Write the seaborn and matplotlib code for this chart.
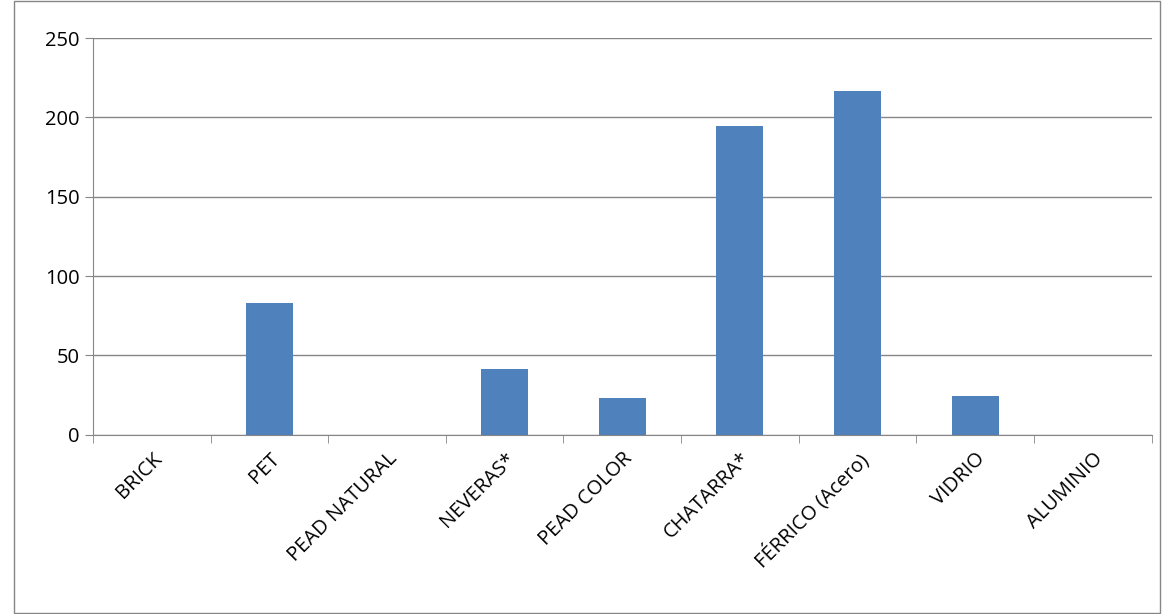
import matplotlib
matplotlib.use("Agg")
import numpy as np
import pandas as pd
import seaborn as sns
import matplotlib.pyplot as plt

categories = ["BRICK", "PET", "PEAD NATURAL", "NEVERAS*", "PEAD COLOR",
              "CHATARRA*", "FÉRRICO (Acero)", "VIDRIO", "ALUMINIO"]
values = [0, 83, 0, 41.5, 23.3, 194.5, 216.5, 24.5, 0]

df = pd.DataFrame({"material": categories, "valor": values})

sns.set_style("white")
plt.rcParams["font.family"] = ["Open Sans", "DejaVu Sans"]

fig = plt.figure(figsize=(11.62, 6.14), dpi=100)
ax = fig.add_axes([0.08, 0.292, 0.911, 0.646])
sns.barplot(data=df, x="material", y="valor", color="#4f81bd", width=0.4,
            saturation=1, linewidth=0, ax=ax)

ax.set_ylim(0, 250)
ax.set_yticks([0, 50, 100, 150, 200, 250])
ax.yaxis.grid(True, color="#868686", linewidth=1)
ax.set_axisbelow(True)
ax.set_xlabel("")
ax.set_ylabel("")
for s in ["top", "right"]:
    ax.spines[s].set_visible(False)
ax.spines["left"].set_color("#868686")
ax.spines["bottom"].set_color("#868686")
ax.tick_params(axis="both", which="both", labelsize=14.5, length=6, color="#868686",
               direction="out", left=True, bottom=True, labelcolor="black")
ax.set_xticks(range(len(categories)))
ax.set_xticklabels(categories, rotation=45, ha="right", rotation_mode="anchor")
ax.tick_params(axis="x", which="major", length=0, pad=10)
ax.set_xticks(np.arange(-0.5, len(categories)), minor=True)
ax.set_xlim(-0.5, len(categories) - 0.5)

border = plt.Rectangle((0.012, 0.002), 0.986, 0.996, transform=fig.transFigure,
                       fill=False, edgecolor="#868686", linewidth=1)
fig.patches.append(border)

fig.savefig("out.png", dpi=100)
